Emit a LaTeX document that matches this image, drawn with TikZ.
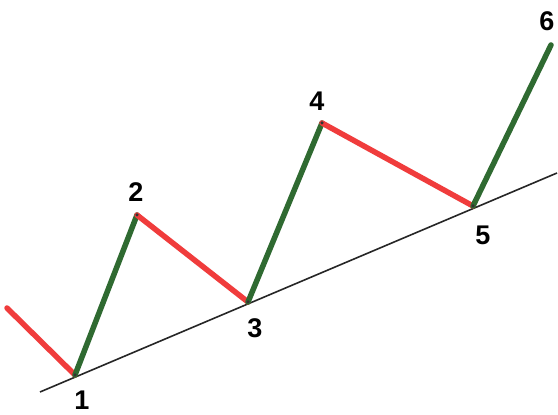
\documentclass[tikz,border=0pt]{standalone}
\usepackage{fontspec}
\setmainfont{Liberation Sans}
\definecolor{downred}{HTML}{F03C3C}
\definecolor{upgreen}{HTML}{2F6A31}
\begin{document}
\begin{tikzpicture}[x=1pt,y=1pt,
  down/.style={draw=downred,line width=5.5pt,line cap=round},
  up/.style={draw=upgreen,line width=5.5pt,line cap=round},
  trend/.style={draw=black!85,line width=1.6pt},
  lbl/.style={font=\fontsize{27}{27}\selectfont\bfseries,text=black,inner sep=0pt},
  vtx/.style={fill=black!80,circle,inner sep=0pt,minimum size=3.5pt}]
\useasboundingbox (0,0) rectangle (558,415);
\fill[white] (0,0) rectangle (558,415);
% points (y = 415 - pixel y)
\coordinate (p0) at (7,107);
\coordinate (p1) at (75,40);
\coordinate (p2) at (137,200);
\coordinate (p3) at (248,113);
\coordinate (p4) at (322,292);
\coordinate (p5) at (473,209);
\coordinate (p6) at (551,370);
\coordinate (t0) at (40,23);
\coordinate (t1) at (557,242);
\draw[trend] (t0) -- (t1);
\draw[down] (p0) -- (p1);
\draw[up] (p1) -- (p2);
\draw[down] (p2) -- (p3);
\draw[up] (p3) -- (p4);
\draw[down] (p4) -- (p5);
\draw[up] (p5) -- (p6);
\foreach \i in {1,...,5} \node[vtx] (d\i) at (p\i) {};
\node[lbl] (l1) at (82,15) {1};
\node[lbl] (l2) at (136,223) {2};
\node[lbl] (l3) at (255,87) {3};
\node[lbl] (l4) at (317,314) {4};
\node[lbl] (l5) at (483,180) {5};
\node[lbl] (l6) at (547,394) {6};
\end{tikzpicture}
\end{document}
